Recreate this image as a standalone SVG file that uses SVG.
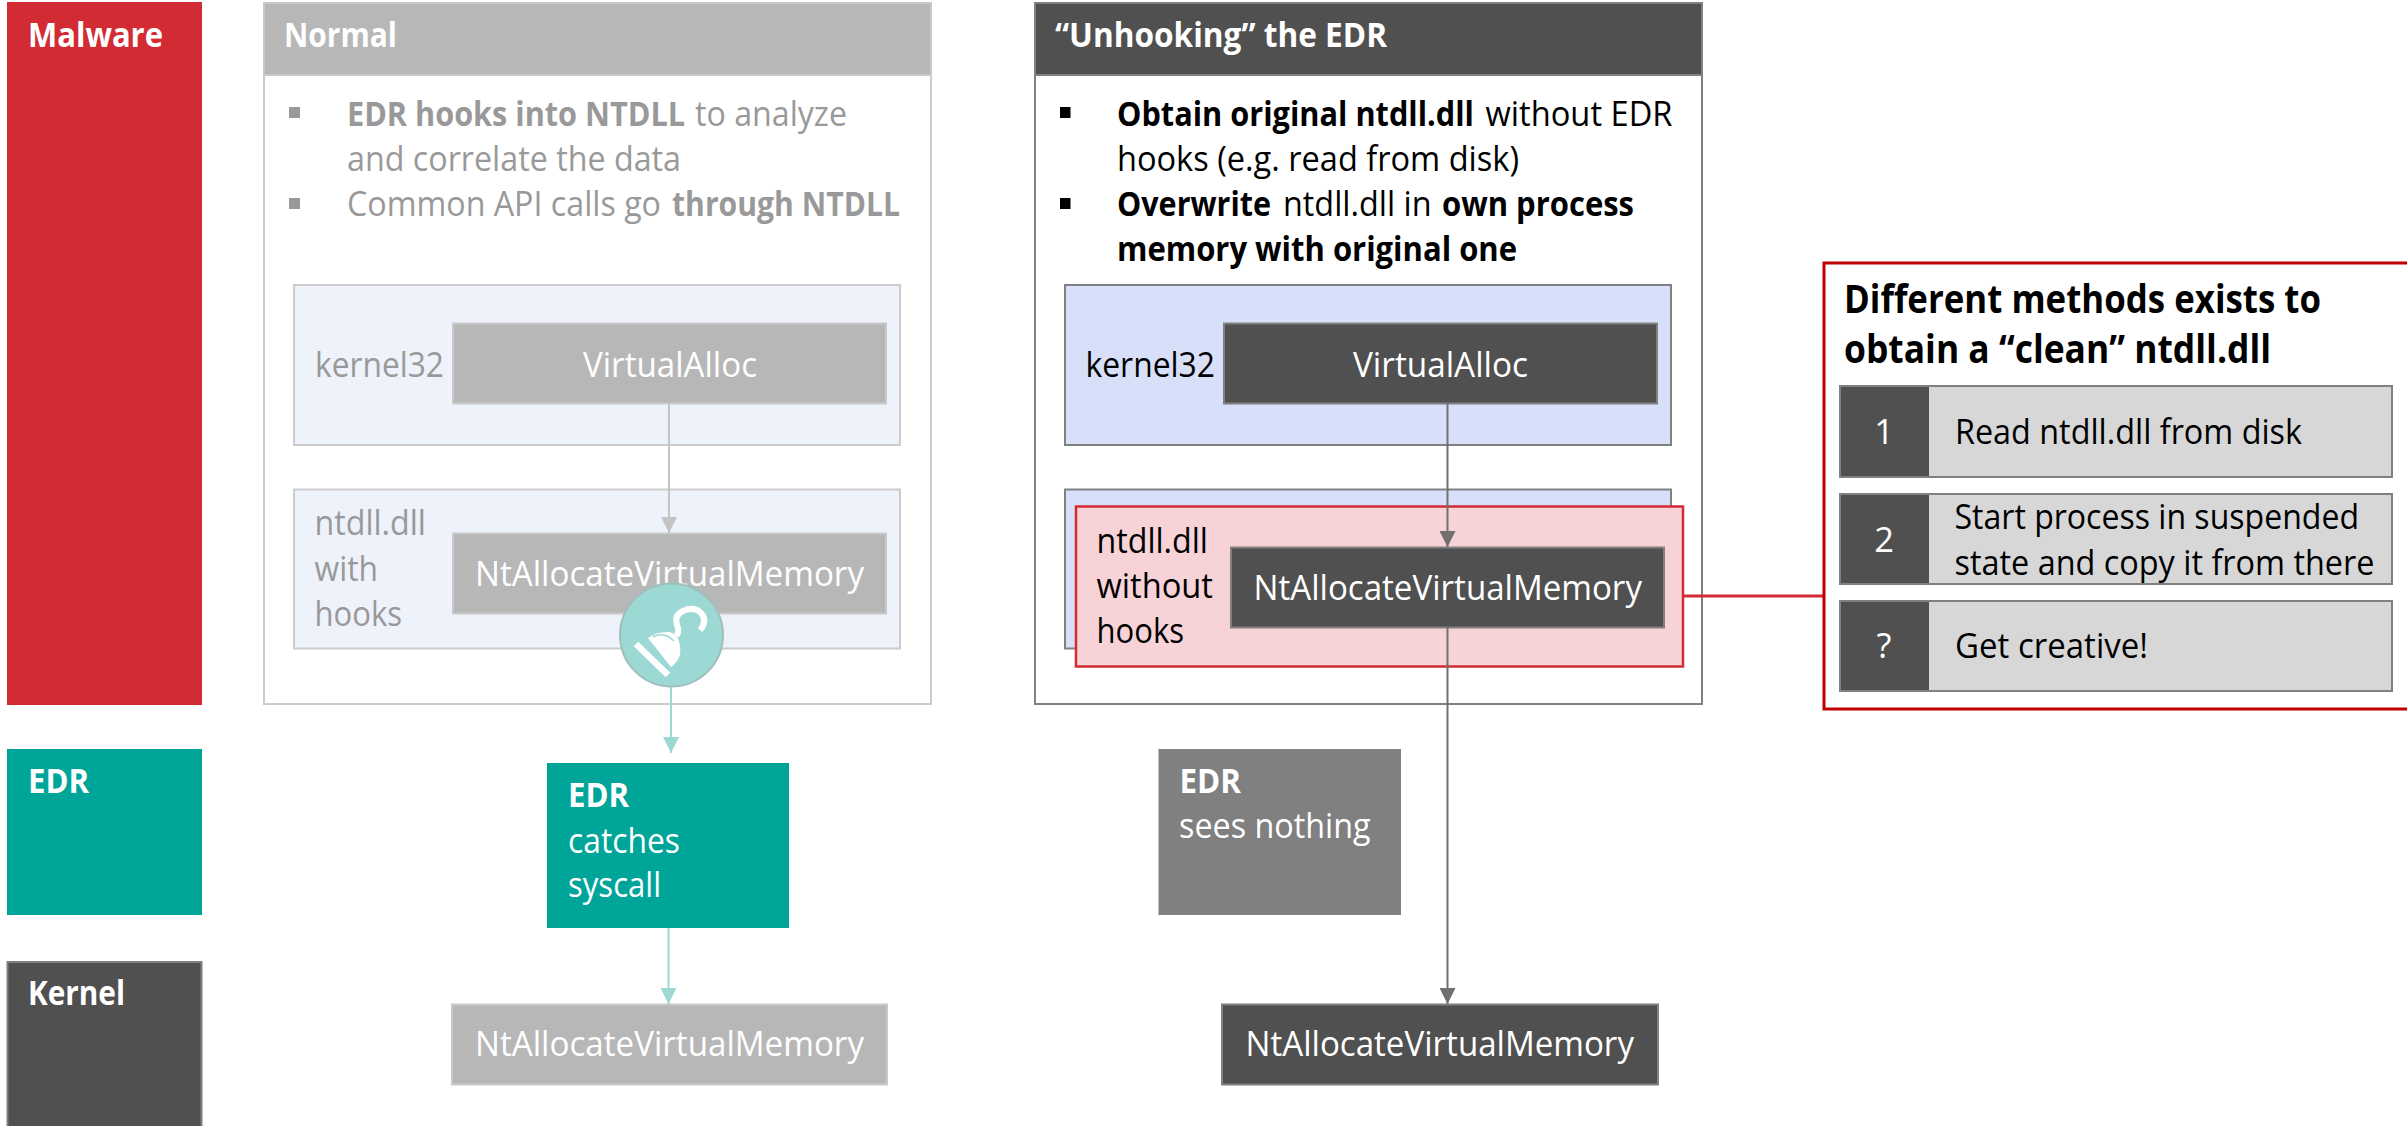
<svg xmlns="http://www.w3.org/2000/svg" width="2407" height="1126" viewBox="0 0 2407 1126">
<style>
text{font-family:"Open Sans","Liberation Sans",sans-serif;font-size:34.5px;fill:#000}
.b{font-weight:700}
.w{fill:#fff}
.g{fill:#999}
.frameL{fill:#fff;stroke:#ccc;stroke-width:2}
.frameD{fill:#fff;stroke:#808080;stroke-width:2}
.lt{fill:#eef2fb;stroke:#ccc;stroke-width:2}
.bl{fill:#d8dff8;stroke:#808080;stroke-width:2}
.gy{fill:#b7b7b7;stroke:#c9c9c9;stroke-width:2}
.dk{fill:#505050;stroke:#808080;stroke-width:2}
.row{fill:#d7d7d7;stroke:#808080;stroke-width:2}
.c{fill:none;stroke-width:2}
</style>
<defs>
<marker id="aG" markerUnits="userSpaceOnUse" markerWidth="16" markerHeight="16" refX="16" refY="8" orient="auto"><path d="M0 0L16 8L0 16z" fill="#c4c4c4"/></marker>
<marker id="aT" markerUnits="userSpaceOnUse" markerWidth="16" markerHeight="16" refX="16" refY="8" orient="auto"><path d="M0 0L16 8L0 16z" fill="#9cd9d4"/></marker>
<marker id="aD" markerUnits="userSpaceOnUse" markerWidth="16" markerHeight="16" refX="16" refY="8" orient="auto"><path d="M0 0L16 8L0 16z" fill="#707070"/></marker>
</defs>

<g id="lane-malware"><rect x="7" y="2" width="195" height="703" fill="#d22b34"/><text class="b w" x="28" y="47" textLength="135" lengthAdjust="spacingAndGlyphs">Malware</text></g>
<g id="lane-edr"><rect x="7" y="749" width="195" height="166" fill="#00a59a"/><text class="b w" x="28" y="793" textLength="61" lengthAdjust="spacingAndGlyphs">EDR</text></g>
<g id="lane-kernel"><rect x="7.500" y="962" width="194" height="170" fill="#505050" stroke="#808080" stroke-width="2"/><text class="b w" x="28" y="1005" textLength="97" lengthAdjust="spacingAndGlyphs">Kernel</text></g>

<g id="normal-panel">
<rect class="frameL" x="264" y="3" width="667" height="701"/>
<rect class="gy" x="264" y="3" width="667" height="72"/>
<text class="b w" x="284" y="47" textLength="113" lengthAdjust="spacingAndGlyphs">Normal</text>
<rect x="289" y="107" width="11" height="11" fill="#999"/>
<text class="g" y="126"><tspan class="b" x="347" textLength="338" lengthAdjust="spacingAndGlyphs">EDR hooks into NTDLL</tspan><tspan x="695" textLength="152" lengthAdjust="spacingAndGlyphs">to analyze</tspan></text>
<text class="g" x="347" y="171" textLength="334" lengthAdjust="spacingAndGlyphs">and correlate the data</text>
<rect x="289" y="198" width="11" height="11" fill="#999"/>
<text class="g" y="216"><tspan x="347" textLength="314" lengthAdjust="spacingAndGlyphs">Common API calls go</tspan><tspan class="b" x="672" textLength="228" lengthAdjust="spacingAndGlyphs">through NTDLL</tspan></text>
</g>
<g id="normal-kernel32">
<rect class="lt" x="294" y="285" width="606" height="160"/>
<text class="g" x="315" y="377" textLength="129" lengthAdjust="spacingAndGlyphs">kernel32</text>
</g>
<g id="normal-virtualalloc">
<rect class="gy" x="453" y="323.500" width="433" height="80"/>
<text class="w" x="583" y="377" textLength="174" lengthAdjust="spacingAndGlyphs">VirtualAlloc</text>
</g>
<g id="normal-ntdll">
<rect class="lt" x="294" y="489.500" width="606" height="159"/>
<text class="g" x="314.500" y="535" textLength="111.500" lengthAdjust="spacingAndGlyphs">ntdll.dll</text>
<text class="g" x="314.500" y="581" textLength="63.500" lengthAdjust="spacingAndGlyphs">with</text>
<text class="g" x="314.500" y="626" textLength="87.500" lengthAdjust="spacingAndGlyphs">hooks</text>
</g>
<g id="normal-ntalloc">
<rect class="gy" x="453" y="533.500" width="433" height="80"/>
<text class="w" x="475" y="586" textLength="389" lengthAdjust="spacingAndGlyphs">NtAllocateVirtualMemory</text>
</g>

<g id="unhook-panel">
<rect class="frameD" x="1035" y="3" width="667" height="701"/>
<rect class="dk" x="1035" y="3" width="667" height="72"/>
<text class="b w" x="1055" y="47" textLength="332" lengthAdjust="spacingAndGlyphs">“Unhooking” the EDR</text>
<rect x="1060" y="107" width="10.500" height="11" fill="#000"/>
<text y="126"><tspan class="b" x="1117" textLength="357" lengthAdjust="spacingAndGlyphs">Obtain original ntdll.dll</tspan><tspan x="1485.500" textLength="187" lengthAdjust="spacingAndGlyphs">without EDR</tspan></text>
<text x="1117" y="171" textLength="402" lengthAdjust="spacingAndGlyphs">hooks (e.g. read from disk)</text>
<rect x="1060" y="198" width="10.500" height="11" fill="#000"/>
<text y="216"><tspan class="b" x="1117" textLength="154" lengthAdjust="spacingAndGlyphs">Overwrite</tspan><tspan x="1283" textLength="148.500" lengthAdjust="spacingAndGlyphs">ntdll.dll in</tspan><tspan class="b" x="1442" textLength="192" lengthAdjust="spacingAndGlyphs">own process</tspan></text>
<text class="b" x="1117" y="261" textLength="400" lengthAdjust="spacingAndGlyphs">memory with original one</text>
</g>
<g id="unhook-kernel32">
<rect class="bl" x="1065" y="285" width="606" height="160"/>
<text x="1085.500" y="377" textLength="129.500" lengthAdjust="spacingAndGlyphs">kernel32</text>
</g>
<g id="unhook-virtualalloc">
<rect class="dk" x="1224" y="323.500" width="433" height="80"/>
<text class="w" x="1353" y="377" textLength="175" lengthAdjust="spacingAndGlyphs">VirtualAlloc</text>
</g>
<g id="unhook-ntdll-back"><rect class="bl" x="1065" y="489.500" width="606" height="159"/></g>
<g id="unhook-ntdll">
<rect x="1076" y="506.500" width="607" height="160" fill="#f7d3d7" stroke="#d22b34" stroke-width="2.500"/>
<text x="1096.500" y="553" textLength="111.500" lengthAdjust="spacingAndGlyphs">ntdll.dll</text>
<text x="1096.500" y="598" textLength="116.500" lengthAdjust="spacingAndGlyphs">without</text>
<text x="1096.500" y="643" textLength="87.500" lengthAdjust="spacingAndGlyphs">hooks</text>
</g>
<g id="unhook-ntalloc">
<rect class="dk" x="1231" y="547.500" width="433" height="80"/>
<text class="w" x="1253.500" y="600" textLength="388.500" lengthAdjust="spacingAndGlyphs">NtAllocateVirtualMemory</text>
</g>

<g id="connectors">
<path class="c" stroke="#c4c4c4" d="M669 403V533" marker-end="url(#aG)"/>
<path class="c" stroke="#9cd9d4" d="M671 687V753" marker-end="url(#aT)"/>
<path class="c" stroke="#9cd9d4" d="M668.500 928V1004" marker-end="url(#aT)"/>
<path class="c" stroke="#707070" d="M1447.500 403V547" marker-end="url(#aD)"/>
<path class="c" stroke="#707070" d="M1447.500 627V1004" marker-end="url(#aD)"/>
<path fill="none" stroke="#d22b34" stroke-width="3" d="M1683 596H1824"/>
</g>

<g id="hook">
<circle cx="671.500" cy="635" r="51.500" fill="#9cd9d4" stroke="#a0bfbc" stroke-width="2"/>
<path d="M636 644L668 675" stroke="#fff" stroke-width="6.500" fill="none"/>
<path d="M648 638Q658 631 670 632Q682 637 680 655Q677 663 671 667z" fill="#fff"/>
<path d="M653 637Q664 631 674 641" stroke="#9cd9d4" stroke-width="1.500" fill="none"/>
<path d="M676 636Q680 632 677 625Q674 615 683 611Q694 606 701 613Q708 621 700 630" stroke="#fff" stroke-width="6" fill="none"/>
</g>

<g id="edr-catches">
<rect x="547" y="763" width="242" height="165" fill="#00a59a"/>
<text class="b w" x="568" y="807" textLength="61" lengthAdjust="spacingAndGlyphs">EDR</text>
<text class="w" x="568" y="853" textLength="112" lengthAdjust="spacingAndGlyphs">catches</text>
<text class="w" x="568" y="897" textLength="93" lengthAdjust="spacingAndGlyphs">syscall</text>
</g>
<g id="kernel-normal">
<rect class="gy" x="452" y="1004.500" width="435" height="80"/>
<text class="w" x="475" y="1056" textLength="389" lengthAdjust="spacingAndGlyphs">NtAllocateVirtualMemory</text>
</g>
<g id="edr-sees">
<rect x="1158.500" y="749" width="242.500" height="166" fill="#808080"/>
<text class="b w" x="1179.500" y="793" textLength="61.500" lengthAdjust="spacingAndGlyphs">EDR</text>
<text class="w" x="1179" y="838" textLength="191.500" lengthAdjust="spacingAndGlyphs">sees nothing</text>
</g>
<g id="kernel-unhook">
<rect class="dk" x="1222" y="1004.500" width="436" height="80"/>
<text class="w" x="1245.500" y="1056" textLength="388.500" lengthAdjust="spacingAndGlyphs">NtAllocateVirtualMemory</text>
</g>

<g id="methods-panel">
<rect x="1824" y="263" width="600" height="446" fill="#fff" stroke="#c00000" stroke-width="3"/>
<text class="b" style="font-size:38.500px" x="1844" y="313" textLength="477" lengthAdjust="spacingAndGlyphs">Different methods exists to</text>
<text class="b" style="font-size:38.500px" x="1844" y="363" textLength="427" lengthAdjust="spacingAndGlyphs">obtain a “clean” ntdll.dll</text>
</g>
<g id="method-1">
<rect class="row" x="1840" y="386" width="552" height="91"/>
<rect x="1841" y="387" width="88" height="89" fill="#505050"/>
<text class="w" x="1884" y="444" text-anchor="middle">1</text>
<text x="1955" y="444" textLength="347" lengthAdjust="spacingAndGlyphs">Read ntdll.dll from disk</text>
</g>
<g id="method-2">
<rect class="row" x="1840" y="494" width="552" height="90"/>
<rect x="1841" y="495" width="88" height="88" fill="#505050"/>
<text class="w" x="1884" y="552" text-anchor="middle">2</text>
<text x="1954.500" y="529" textLength="404.500" lengthAdjust="spacingAndGlyphs">Start process in suspended</text>
<text x="1954.500" y="575" textLength="420" lengthAdjust="spacingAndGlyphs">state and copy it from there</text>
</g>
<g id="method-3">
<rect class="row" x="1840" y="601" width="552" height="90"/>
<rect x="1841" y="602" width="88" height="88" fill="#505050"/>
<text class="w" x="1884" y="658" text-anchor="middle">?</text>
<text x="1955" y="658" textLength="193" lengthAdjust="spacingAndGlyphs">Get creative!</text>
</g>
</svg>
